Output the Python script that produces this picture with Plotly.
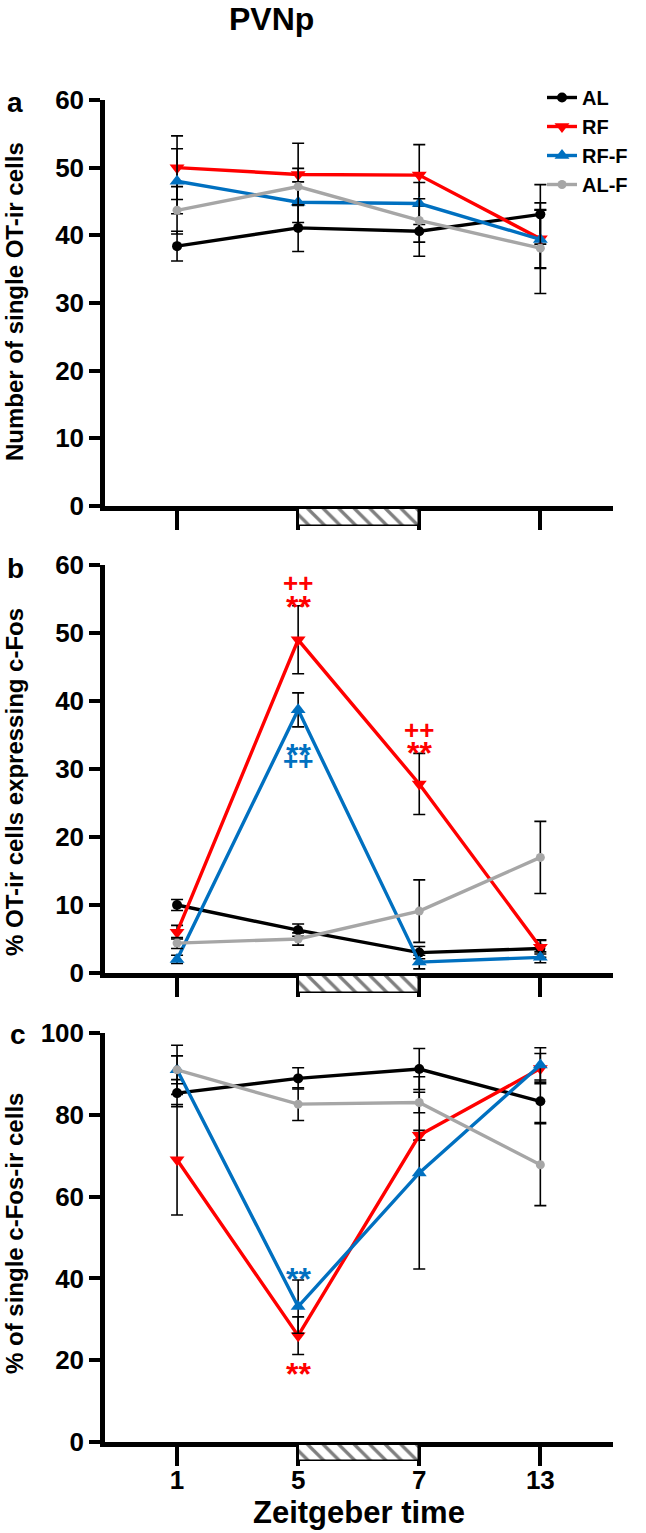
import plotly.graph_objects as go

W, H = 646, 1533

# ---------------- data ----------------
zt = ["1", "5", "7", "13"]
series = ["AL", "RF", "RF-F", "AL-F"]

# panel a: Number of single OT-ir cells
a_AL = [38.4, 41.1, 40.6, 43.1]
a_AL_err = [2.2, 3.5, 3.7, 4.4]
a_RF = [50.0, 49.0, 48.9, 39.5]
a_RF_err = [4.7, 4.6, 4.5, 4.3]
a_RFF = [48.0, 44.9, 44.7, 39.4]
a_RFF_err = [4.8, 3.0, 3.1, 4.3]
a_ALF = [43.7, 47.2, 42.2, 38.1]
a_ALF_err = [3.5, 2.7, 3.2, 6.7]

# panel b: % OT-ir cells expressing c-Fos
b_AL = [10.0, 6.3, 3.0, 3.6]
b_AL_err = [0.8, 0.9, 0.9, 1.3]
b_RF = [6.0, 49.0, 27.8, 3.8]
b_RF_err = [1.0, 5.0, 4.5, 1.0]
b_RFF = [2.0, 38.7, 1.6, 2.3]
b_RFF_err = [0.6, 2.5, 1.0, 0.8]
b_ALF = [4.4, 5.0, 9.1, 17.0]
b_ALF_err = [0.8, 0.9, 4.6, 5.3]

# panel c: % of single c-Fos-ir cells
c_AL = [85.3, 88.9, 91.2, 83.3]
c_AL_err = [3.3, 2.6, 5.0, 5.2]
c_RF = [69.0, 26.0, 75.0, 91.3]
c_RF_err = [13.5, 4.6, 1.2, 3.7]
c_RFF = [91.0, 33.1, 65.8, 92.2]
c_RFF_err = [6.0, 6.5, 23.5, 4.2]
c_ALF = [91.0, 82.6, 83.0, 67.8]
c_ALF_err = [3.4, 4.0, 2.5, 10.0]

y_titles = ["Number of single OT-ir cells",
            "% OT-ir cells expressing c-Fos",
            "% of single c-Fos-ir cells"]
panel_letters = ["a", "b", "c"]
y_ranges = [[0, 60], [0, 60], [0, 100]]
y_dticks = [10, 10, 20]

# significance marks: (panel, zt, y, text, series)
sig_marks = [
    (1, "5", 57.4, "++", "RF"),
    (1, "5", 55.1, "**", "RF"),
    (1, "7", 35.7, "++", "RF"),
    (1, "7", 33.7, "**", "RF"),
    (1, "5", 33.4, "**", "RF-F"),
    (1, "5", 31.2, "++", "RF-F"),
    (2, "5", 42.1, "**", "RF-F"),
    (2, "5", 18.8, "**", "RF"),
]

# food window (hatched bar) between these two times
food_start, food_end = "5", "7"

# ---------------- styles ----------------
colors = {"AL": "#000000", "RF": "#ff0000", "RF-F": "#0070c0", "AL-F": "#a6a6a6"}
symbols = {"AL": "circle", "RF": "triangle-down", "RF-F": "triangle-up", "AL-F": "circle"}
msize = {"AL": 10, "RF": 13, "RF-F": 13, "AL-F": 9}
FONT = "Liberation Sans"

def px_x(p):
    return p / W

def px_y(p):
    return 1 - p / H

x_dom = [px_x(105), px_x(613)]
panels_px = [(100, 506), (565, 973), (1033, 1442)]
box_px = [(508, 526), (975, 993), (1444, 1461)]
x_range = [-0.595, 3.6]

panel_data = [
    {"AL": (a_AL, a_AL_err), "RF": (a_RF, a_RF_err), "RF-F": (a_RFF, a_RFF_err), "AL-F": (a_ALF, a_ALF_err)},
    {"AL": (b_AL, b_AL_err), "RF": (b_RF, b_RF_err), "RF-F": (b_RFF, b_RFF_err), "AL-F": (b_ALF, b_ALF_err)},
    {"AL": (c_AL, c_AL_err), "RF": (c_RF, c_RF_err), "RF-F": (c_RFF, c_RFF_err), "AL-F": (c_ALF, c_ALF_err)},
]

fig = go.Figure()

for i, pdata in enumerate(panel_data):
    xa = "x" if i == 0 else f"x{i+1}"
    ya = "y" if i == 0 else f"y{i+1}"
    for s in series:
        vals, err = pdata[s]
        fig.add_trace(go.Scatter(
            x=zt, y=vals, xaxis=xa, yaxis=ya,
            mode="lines+markers", name=s, legendgroup=s, showlegend=(i == 0),
            line=dict(color=colors[s], width=3.4),
            marker=dict(symbol=symbols[s], size=msize[s], color=colors[s]),
            error_y=dict(type="data", array=err, visible=True,
                         color="black", thickness=1.6, width=6),
            cliponaxis=False,
        ))

# hatched food-window boxes on little helper axes
i0, i1 = zt.index(food_start), zt.index(food_end)
for i in range(3):
    n = i + 4
    fig.add_trace(go.Bar(
        x=[(i0 + i1) / 2], y=[1], width=[i1 - i0], base=[0],
        xaxis=f"x{n}", yaxis=f"y{n}", showlegend=False, hoverinfo="skip",
        marker=dict(color="white", line=dict(color="black", width=2.5),
                    pattern=dict(shape="\\", fgcolor="black", bgcolor="white",
                                 size=11, solidity=0.3)),
    ))

layout = dict(
    width=W, height=H,
    margin=dict(l=0, r=0, t=0, b=0, pad=0, autoexpand=False),
    paper_bgcolor="white", plot_bgcolor="white",
    font=dict(family=FONT, size=22, color="black", weight="bold"),
    showlegend=True,
    legend=dict(x=px_x(542), y=px_y(78), xanchor="left", yanchor="top",
                font=dict(family=FONT, size=20, color="black", weight="bold"),
                bgcolor="rgba(0,0,0,0)", tracegroupgap=0, itemwidth=30),
    bargap=0,
)

for i, (top, bot) in enumerate(panels_px):
    sfx = "" if i == 0 else str(i + 1)
    layout["xaxis" + sfx] = dict(
        domain=x_dom, anchor="y" + sfx, type="category", range=x_range,
        categoryorder="array", categoryarray=zt,
        showline=True, linecolor="black", linewidth=4.5,
        ticks="outside", ticklen=19, tickwidth=4, tickcolor="black",
        showticklabels=(i == 2), ticklabelstandoff=-8,
        tickfont=dict(family=FONT, size=26, color="black", weight="bold"),
        showgrid=False, zeroline=False, fixedrange=True, automargin=False,
    )
    layout["yaxis" + sfx] = dict(
        domain=[px_y(bot), px_y(top)], anchor="x" + sfx,
        range=y_ranges[i], dtick=y_dticks[i], tick0=0,
        showline=True, linecolor="black", linewidth=4.5,
        ticks="outside", ticklen=11, tickwidth=4, tickcolor="black",
        tickfont=dict(family=FONT, size=26, color="black", weight="bold"),
        showgrid=False, zeroline=False, fixedrange=True, automargin=False,
    )
    n = i + 4
    btop, bbot = box_px[i]
    layout[f"xaxis{n}"] = dict(domain=x_dom, anchor=f"y{n}", range=x_range,
                               visible=False, fixedrange=True)
    layout[f"yaxis{n}"] = dict(domain=[px_y(bbot), px_y(btop)], anchor=f"x{n}",
                               range=[0, 1], visible=False, fixedrange=True)

fig.update_layout(**layout)

def paper_text(text, x, y, size, angle=0):
    return dict(text=text, x=px_x(x), y=px_y(y), xref="paper", yref="paper",
                xanchor="center", yanchor="middle", textangle=angle,
                showarrow=False, font=dict(family=FONT, size=size, weight="bold"))

ann = []
ann.append(paper_text("PVNp", 271, 19, 32))
ann.append(paper_text("Zeitgeber time", 359, 1512, 31))
y_title_centers = [302, 782, 1234]
letter_pos = [(15, 102), (15, 568), (18, 1034)]
for i in range(3):
    ann.append(paper_text(y_titles[i], 14, y_title_centers[i], 24, angle=-90))
    lx, ly = letter_pos[i]
    ann.append(paper_text(panel_letters[i], lx, ly, 28))
for (p, t, yv, txt, s) in sig_marks:
    sfx = "" if p == 0 else str(p + 1)
    star = txt == "**"
    ann.append(dict(text=txt, x=zt.index(t), y=yv, xref="x" + sfx, yref="y" + sfx,
                    xanchor="center", yanchor="middle",
                    showarrow=False, yshift=(-9 if star else 0),
                    font=dict(family=FONT, size=(32 if star else 26),
                              color=colors[s], weight="bold")))
fig.update_layout(annotations=ann)

# remove the browser's default page margin so the figure sits at (0, 0)
fig.write_html("out.html", config={"displayModeBar": False},
               post_script="document.body.style.margin='0px';")
